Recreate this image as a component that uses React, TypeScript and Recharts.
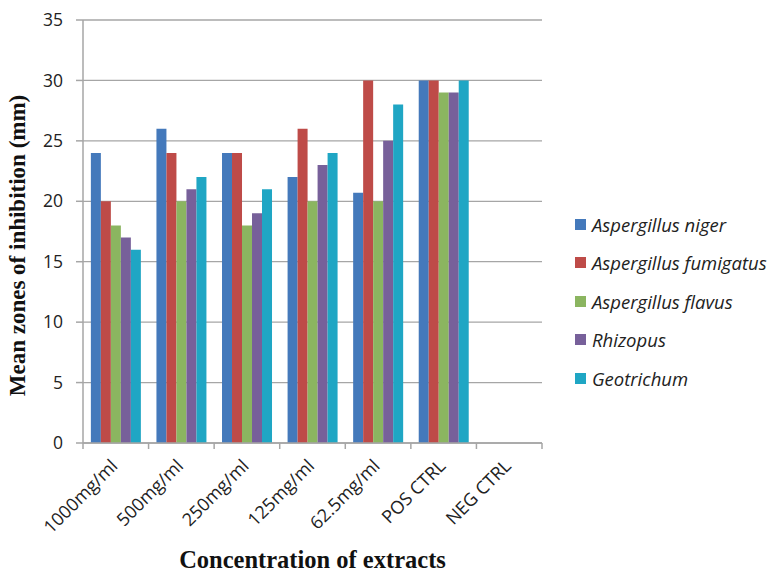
import React from "react"
import { BarChart, Bar, XAxis, YAxis, CartesianGrid, Legend } from "recharts"

const categories = ["1000mg/ml", "500mg/ml", "250mg/ml", "125mg/ml", "62.5mg/ml", "POS CTRL", "NEG CTRL"]
const niger = [24, 26, 24, 22, 20.7, 30, 0]
const fumigatus = [20, 24, 24, 26, 30, 30, 0]
const flavus = [18, 20, 18, 20, 20, 29, 0]
const rhizopus = [17, 21, 19, 23, 25, 29, 0]
const geotrichum = [16, 22, 21, 24, 28, 30, 0]
const yTicks = [0, 5, 10, 15, 20, 25, 30, 35]

const series = [
  { key: "niger", name: "Aspergillus niger", color: "#4479BB" },
  { key: "fumigatus", name: "Aspergillus fumigatus", color: "#BE4B48" },
  { key: "flavus", name: "Aspergillus flavus", color: "#8BB560" },
  { key: "rhizopus", name: "Rhizopus", color: "#77609A" },
  { key: "geotrichum", name: "Geotrichum", color: "#1FA6C4" },
]

const data = categories.map((name, i) => ({
  name,
  niger: niger[i],
  fumigatus: fumigatus[i],
  flavus: flavus[i],
  rhizopus: rhizopus[i],
  geotrichum: geotrichum[i],
}))

const AXIS = "#a6a6a6"
const TICK_FONT = "'Open Sans', 'Liberation Sans', sans-serif"
const TITLE_FONT = "'Liberation Serif', 'DejaVu Serif', serif"
const PLOT_LEFT = 83
const PLOT_RIGHT = 542
const LEGEND_W = 200
const HALF_BAND = (PLOT_RIGHT - PLOT_LEFT) / categories.length / 2

function XTick(props: any) {
  const { x, y, payload, index } = props
  const ax = x + 3
  const ay = y + 24
  return (
    <g>
      <line x1={x + HALF_BAND} x2={x + HALF_BAND} y1={y} y2={y + 6} stroke={AXIS} strokeWidth={1.5} />
      {index === 0 && <line x1={x - HALF_BAND} x2={x - HALF_BAND} y1={y} y2={y + 6} stroke={AXIS} strokeWidth={1.5} />}
      <text
        x={ax}
        y={ay}
        transform={`rotate(-45 ${ax} ${ay})`}
        textAnchor="end"
        fontSize={18}
        fontFamily={TICK_FONT}
        fill="#222"
      >
        {payload.value}
      </text>
    </g>
  )
}

function LegendContent() {
  return (
    <div style={{ fontFamily: TICK_FONT, fontStyle: "italic", fontSize: 18.5, color: "#222", whiteSpace: "nowrap" }}>
      {series.map((s) => (
        <div key={s.key} style={{ display: "flex", alignItems: "center", height: 38.5 }}>
          <span style={{ width: 11, height: 11, background: s.color, marginRight: 6, display: "inline-block" }} />
          <span>{s.name}</span>
        </div>
      ))}
    </div>
  )
}

export default function App() {
  return (
    <div style={{ position: "absolute", left: 0, top: 0, background: "#fff" }}>
      <BarChart
        width={775}
        height={575}
        data={data}
        margin={{ top: 20, right: 775 - PLOT_RIGHT - LEGEND_W, left: 0, bottom: 0 }}
        barCategoryGap="12%"
        barGap={0}
      >
        <CartesianGrid vertical={false} stroke={AXIS} strokeWidth={1.3} />
        <XAxis
          dataKey="name"
          height={132}
          tickLine={false}
          tickSize={0}
          tickMargin={0}
          interval={0}
          axisLine={{ stroke: AXIS, strokeWidth: 1.5 }}
          tick={<XTick />}
          label={{
            value: "Concentration of extracts",
            position: "insideBottom",
            offset: 7,
            style: { fontFamily: TITLE_FONT, fontWeight: "bold", fontSize: 24.5, fill: "#111" },
          }}
        />
        <YAxis
          width={PLOT_LEFT}
          domain={[0, 35]}
          ticks={yTicks}
          interval={0}
          tickSize={7}
          tickMargin={13}
          tickLine={{ stroke: AXIS, strokeWidth: 1.5 }}
          axisLine={{ stroke: AXIS, strokeWidth: 1.5 }}
          tick={{ fontSize: 17.5, fontFamily: TICK_FONT, fill: "#222" }}
          label={{
            content: (p: any) => {
              const vb = p.viewBox || { x: 0, y: 20, height: 423 }
              const cx = 17
              const cy = vb.y + vb.height / 2 + 14
              return (
                <text
                  x={cx}
                  y={cy}
                  transform={`rotate(-90 ${cx} ${cy})`}
                  textAnchor="middle"
                  dominantBaseline="central"
                  fontFamily={TITLE_FONT}
                  fontWeight="bold"
                  fontSize={23}
                  fill="#111"
                >
                  Mean zones of inhibition (mm)
                </text>
              )
            },
          }}
        />
        <Legend
          layout="vertical"
          verticalAlign="top"
          align="right"
          width={LEGEND_W}
          content={<LegendContent />}
          wrapperStyle={{ left: 575, top: 205, width: LEGEND_W }}
        />
        {series.map((s) => (
          <Bar key={s.key} dataKey={s.key} name={s.name} fill={s.color} isAnimationActive={false} />
        ))}
      </BarChart>
    </div>
  )
}
